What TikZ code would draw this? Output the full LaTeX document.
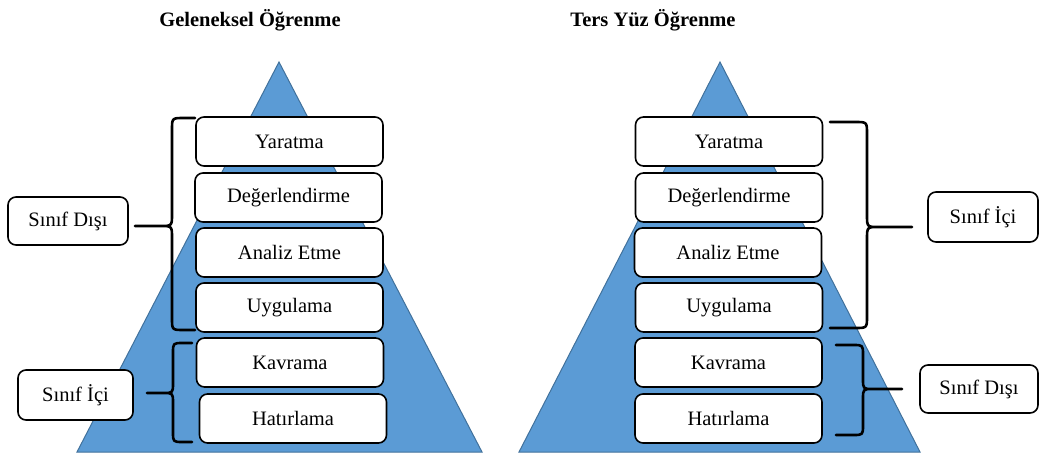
\documentclass[tikz,border=0pt]{standalone}
\usepackage{fontspec}
\setmainfont{Liberation Serif}
\definecolor{pyrfill}{HTML}{5B9BD5}
\definecolor{pyrline}{HTML}{41719C}
% #1 end x, #2 top y, #3 bottom y, #4 spine x, #5 tip x, #6 middle y, #7 signed radius
\newcommand\mybrace[7]{%
  \draw[bracestyle] (#1,#2) -- ({#4-(#7)},#2) .. controls (#4,#2) .. (#4,{#2+abs(#7)})
    -- (#4,{#6-abs(#7)}) .. controls (#4,#6) .. ({#4+(#7)},#6) -- (#5,#6)
    ({#4+(#7)},#6) .. controls (#4,#6) .. (#4,{#6+abs(#7)})
    -- (#4,{#3-abs(#7)}) .. controls (#4,#3) .. ({#4-(#7)},#3) -- (#1,#3);}
\begin{document}
\begin{tikzpicture}[x=1pt,y=-1pt,
  level/.style={draw=black,line width=1.6pt,rounded corners=8pt,fill=white,
    minimum width=187pt,minimum height=49pt,inner sep=0pt,
    font=\fontsize{20.5}{24}\selectfont},
  side/.style={draw=black,line width=1.6pt,rounded corners=8pt,fill=white,
    minimum width=118pt,minimum height=49pt,inner sep=0pt,
    font=\fontsize{20.5}{24}\selectfont},
  ttl/.style={font=\fontsize{20.5}{24}\selectfont\bfseries},
  pyr/.style={fill=pyrfill,draw=pyrline,line width=1pt},
  bracestyle/.style={draw=black,line width=2.6pt,line cap=round,line join=round}]
\useasboundingbox (0,0) rectangle (1040,455);

% titles
\node[ttl] (t1) at (250,20) {Geleneksel Öğrenme};
\node[ttl] (t2) at (653,20) {Ters Yüz Öğrenme};

% pyramids
\draw[pyr] (279,62) -- (482,452) -- (77,452) -- cycle;
\draw[pyr] (720,62) -- (920,452) -- (519,452) -- cycle;

% left levels
\node[level] (l1) at (289.5,141.5) {Yaratma};
\node[level] (l2) at (288.5,197.5) {Değerlendirme};
\node[level] (l3) at (289.5,252.5) {Analiz Etme};
\node[level] (l4) at (289.5,307.5) {Uygulama};
\node[level] (l5) at (290,362.5) {Kavrama};
\node[level] (l6) at (293,418.5) {Hatırlama};

% right levels
\node[level] (r1) at (729,141.5) {Yaratma};
\node[level] (r2) at (729,197.5) {Değerlendirme};
\node[level] (r3) at (728,252.5) {Analiz Etme};
\node[level] (r4) at (729,307.5) {Uygulama};
\node[level] (r5) at (728.5,362.5) {Kavrama};
\node[level] (r6) at (728.5,418.5) {Hatırlama};

% side labels
\node[side,minimum width=120pt,minimum height=48pt] (ld) at (68,221) {Sınıf Dışı};
\node[side,minimum width=115pt,minimum height=50pt] (li) at (75.5,395) {Sınıf İçi};
\node[side,minimum width=110pt,minimum height=50pt] (ri) at (983,217) {Sınıf İçi};
\node[side,minimum width=118pt,minimum height=48pt] (rd) at (979,389) {Sınıf Dışı};

% braces
\mybrace{195}{118}{330}{172}{135}{226}{-12}
\mybrace{192}{343}{442}{173}{147}{393}{-10}
\mybrace{830}{122}{328}{867}{912}{227}{12}
\mybrace{836}{345}{435}{863}{902}{389}{10}
\end{tikzpicture}
\end{document}
